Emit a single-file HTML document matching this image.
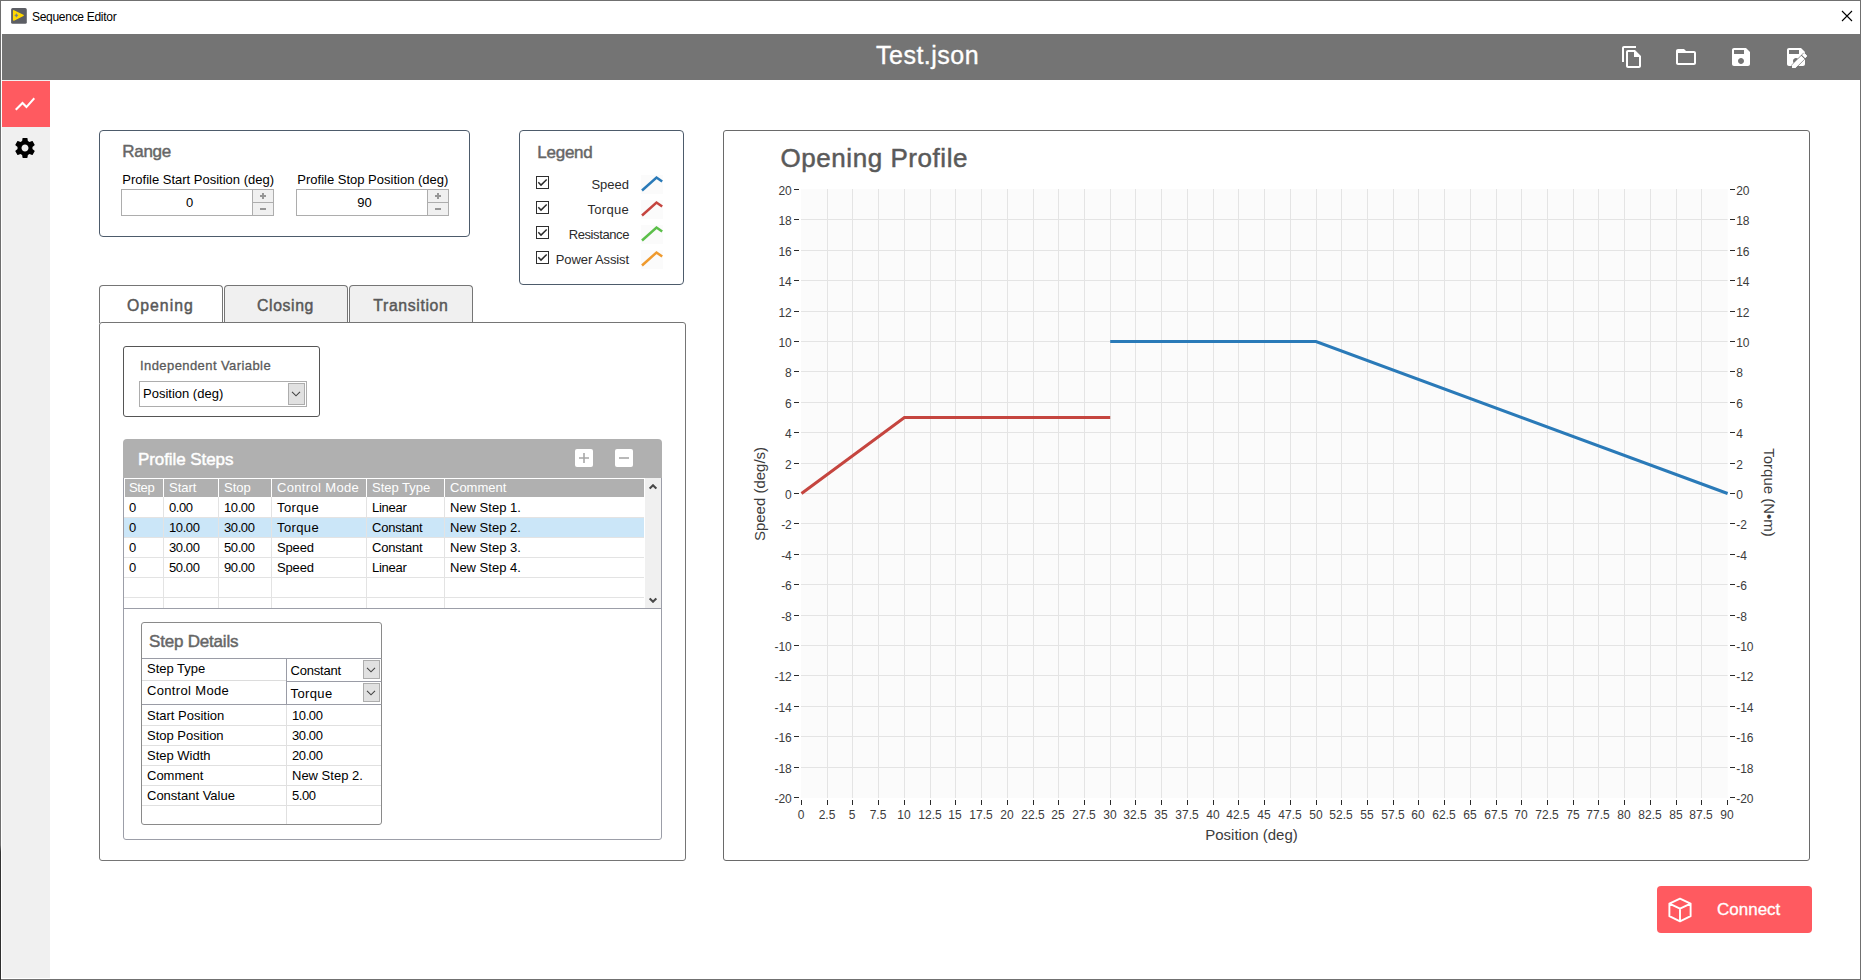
<!DOCTYPE html>
<html>
<head>
<meta charset="utf-8">
<title>Sequence Editor</title>
<style>
*{box-sizing:border-box;margin:0;padding:0}
html,body{width:1861px;height:980px;overflow:hidden;background:#fff}
body{font-family:"Liberation Sans",sans-serif;font-size:13px;color:#000;position:relative}
.abs{position:absolute}
.t{position:absolute;white-space:nowrap;line-height:1}
#win{position:absolute;left:0;top:0;width:1861px;height:980px;border:1px solid #707070;background:#fff}
#lb{position:absolute;left:0;top:0;width:1px;height:980px;background:linear-gradient(#6e6e6e 0,#6e6e6e 845px,#333 852px,#2e2e2e 980px)}
#bar{position:absolute;left:2px;top:34px;width:1858px;height:46px;background:#747474}
#side{position:absolute;left:2px;top:80px;width:48px;height:898px;background:#f0f0f0}
#sideact{position:absolute;left:2px;top:81px;width:48px;height:46px;background:#ff5a60}
.panel{position:absolute;border:1px solid #4d5b6b;border-radius:4px;background:#fff}
.h{color:#666;-webkit-text-stroke:0.45px #666}

.num{width:153px;height:27px;border:1px solid #adadad;background:#fff}
.num .v{position:absolute;left:2px;width:131px;text-align:center;font-size:13px;line-height:1;top:0}
.num .sp{position:absolute;left:130px;width:21px;background:#f0f0f0;border-left:1px solid #adadad}
.num .sp.u{top:0;height:13px;border-bottom:1px solid #adadad}
.num .sp.d{top:13px;height:12px}
.num .sp i{position:absolute;left:7px;width:6px;height:2px;background:#969696;top:5px}
.num .sp.d i{top:5px}
.num .sp b{position:absolute;left:9px;width:2px;height:6px;background:#969696;top:3px}

.cb{position:absolute;width:13px;height:13px;border:1px solid #2e2e2e;background:#fff}
.cb svg{position:absolute;left:0;top:0}
.lg{color:#2b2b2b}
.tab{position:absolute;top:285px;width:124px;height:38px;border:1px solid #757575;border-bottom:none;border-radius:4px 4px 0 0;background:#f0f0f0}
.tab.on{background:#fff}
.tt{color:#585858;-webkit-text-stroke:0.45px #585858;font-size:15.8px}
.dd{position:absolute;border:1px solid #adadad;background:#fff}
.ddb{position:absolute;background:#e1e1e1;border:1px solid #adadad}
.ddb svg{position:absolute;left:50%;top:50%;margin:-3px 0 0 -5.5px}
</style>
</head>
<body>
<div id="win"></div><div id="lb"></div>
<!-- SECTION:TITLEBAR -->
<svg class="abs" style="left:11px;top:8px" width="16" height="16" viewBox="0 0 16 16"><rect x="0.1" y="0.1" width="15.7" height="15.7" rx="1.6" fill="#5c5e64"/><path d="M2.7 2.8L12.1 7.4L2.7 12.0Z" fill="#ffd800" stroke="#ffd800" stroke-width="1.5" stroke-linejoin="round"/><path d="M5.4 5.6Q5.6 7.2 7.1 7.4Q5.6 7.6 5.4 9.2Q5.2 7.6 3.7 7.4Q5.2 7.2 5.4 5.6Z" fill="#6b7b8e" stroke="#6b7b8e" stroke-width="0.5"/></svg>
<div class="t" id="wtitle" style="left:32px;top:11px;font-size:12px;letter-spacing:-0.29px">Sequence Editor</div>
<svg class="abs" style="left:1841px;top:10px" width="12" height="12" viewBox="0 0 12 12"><path d="M1 1L11 11M11 1L1 11" stroke="#000" stroke-width="1.1" fill="none"/></svg>
<!-- SECTION:BAR -->
<div id="bar"></div>
<div class="t" id="ftitle" style="left:876px;top:43px;font-size:25px;color:#fff;-webkit-text-stroke:0.35px #fff;letter-spacing:0.5px">Test.json</div>
<svg class="abs" style="left:1620px;top:45px" width="24" height="24" viewBox="0 0 24 24" fill="#fff"><path d="M16 1H4c-1.1 0-2 .9-2 2v14h2V3h12V1zm-1 4H8c-1.1 0-1.99.9-1.99 2L6 21c0 1.1.89 2 1.99 2H19c1.1 0 2-.9 2-2V11l-6-6zM8 21V7h6v5h5v9H8z"/></svg>
<svg class="abs" style="left:1674px;top:45px" width="24" height="24" viewBox="0 0 24 24" fill="#fff"><path d="M20 6h-8l-2-2H4c-1.1 0-1.99.9-1.99 2L2 18c0 1.1.9 2 2 2h16c1.1 0 2-.9 2-2V8c0-1.1-.9-2-2-2zm0 12H4V8h16v10z"/></svg>
<svg class="abs" style="left:1729px;top:45px" width="24" height="24" viewBox="0 0 24 24" fill="#fff"><path d="M17 3H5c-1.11 0-2 .9-2 2v14c0 1.1.89 2 2 2h14c1.1 0 2-.9 2-2V7l-4-4zm-5 16c-1.66 0-3-1.34-3-3s1.34-3 3-3 3 1.34 3 3-1.34 3-3 3zm3-10H5V5h10v4z"/></svg>
<svg class="abs" style="left:1784px;top:45px" width="26" height="26" viewBox="0 0 26 26" fill="#fff"><path d="M17 3H5c-1.11 0-2 .9-2 2v14c0 1.1.89 2 2 2h14c1.1 0 2-.9 2-2V7l-4-4zm-5 16c-1.66 0-3-1.34-3-3s1.34-3 3-3 3 1.34 3 3-1.34 3-3 3zm3-10H5V5h10v4z"/><g transform="translate(5.7 5.8) scale(0.82)"><path d="M3 17.25V21h3.75L17.81 9.94l-3.75-3.75L3 17.25zM20.71 7.04c.39-.39.39-1.02 0-1.41l-2.34-2.34c-.39-.39-1.02-.39-1.41 0l-1.83 1.83 3.75 3.75 1.83-1.83z" stroke="#747474" stroke-width="1.5" paint-order="stroke" stroke-linejoin="miter"/><path d="M3 17.25V21h3.75L17.81 9.94l-3.75-3.75L3 17.25zM20.71 7.04c.39-.39.39-1.02 0-1.41l-2.34-2.34c-.39-.39-1.02-.39-1.41 0l-1.83 1.83 3.75 3.75 1.83-1.83z"/></g></svg>
<!-- SECTION:SIDE -->
<div id="side"></div>
<div id="sideact"></div>
<svg class="abs" style="left:13px;top:92px" width="24" height="24" viewBox="0 0 24 24" fill="#fff"><path d="M3.5 18.49l6-6.01 4 4L22 6.92l-1.41-1.41-7.09 7.97-4-4L2 16.99z"/></svg>
<svg class="abs" style="left:13px;top:136px" width="24" height="24" viewBox="0 0 24 24" fill="#000"><path d="M19.43 12.98c.04-.32.07-.64.07-.98s-.03-.66-.07-.98l2.11-1.65c.19-.15.24-.42.12-.64l-2-3.46c-.12-.22-.39-.3-.61-.22l-2.49 1c-.52-.4-1.08-.73-1.69-.98l-.38-2.65C14.46 2.18 14.25 2 14 2h-4c-.25 0-.46.18-.49.42l-.38 2.65c-.61.25-1.17.59-1.69.98l-2.49-1c-.23-.09-.49 0-.61.22l-2 3.46c-.13.22-.07.49.12.64l2.11 1.65c-.04.32-.07.65-.07.98s.03.66.07.98l-2.11 1.65c-.19.15-.24.42-.12.64l2 3.46c.12.22.39.3.61.22l2.49-1c.52.4 1.08.73 1.69.98l.38 2.65c.03.24.24.42.49.42h4c.25 0 .46-.18.49-.42l.38-2.65c.61-.25 1.17-.59 1.69-.98l2.49 1c.23.09.49 0 .61-.22l2-3.46c.12-.22.07-.49-.12-.64l-2.11-1.65zM12 15.5c-1.93 0-3.5-1.57-3.5-3.5s1.57-3.5 3.5-3.5 3.5 1.57 3.5 3.5-1.57 3.5-3.5 3.5z"/></svg>
<!-- SECTION:RANGE -->
<div class="panel" style="left:99px;top:130px;width:371px;height:107px"></div>
<div class="t h" id="t_range" style="left:122.3px;top:143px;font-size:17px;letter-spacing:-0.3px">Range</div>
<div class="t" id="t_pstart" style="left:122.3px;top:173px;font-size:13px">Profile Start Position (deg)</div>
<div class="t" id="t_pstop" style="left:297.3px;top:173px;font-size:13px">Profile Stop Position (deg)</div>
<div class="abs num" style="left:121px;top:189px"><div class="v" style="top:6px">0</div><div class="sp u"><i></i><b></b></div><div class="sp d"><i></i></div></div>
<div class="abs num" style="left:296px;top:189px"><div class="v" style="top:6px">90</div><div class="sp u"><i></i><b></b></div><div class="sp d"><i></i></div></div>
<!-- SECTION:LEGEND -->
<div class="panel" style="left:519px;top:130px;width:165px;height:155px"></div>
<div class="t h" id="t_legend" style="left:537.3px;top:144px;font-size:17px;letter-spacing:-0.25px">Legend</div>
<div class="cb" style="left:536px;top:176px"><svg width="11" height="11" viewBox="0 0 11 11"><path d="M1.3 5.3L4.0 8.1L9.7 2.4" stroke="#2a2a2a" stroke-width="1.45" fill="none"/></svg></div>
<div class="t lg" id="t_lg0" style="right:1232px;top:178px;font-size:13px;letter-spacing:0px">Speed</div>
<svg class="abs" style="left:641px;top:175px" width="22" height="19" viewBox="0 0 22 19"><rect width="22" height="19" fill="#fbfbfb"/><path d="M1 15.5L15.5 2.5L21.2 6.5" stroke="#2a7ab8" stroke-width="2.5" fill="none"/></svg>
<div class="cb" style="left:536px;top:201px"><svg width="11" height="11" viewBox="0 0 11 11"><path d="M1.3 5.3L4.0 8.1L9.7 2.4" stroke="#2a2a2a" stroke-width="1.45" fill="none"/></svg></div>
<div class="t lg" id="t_lg1" style="right:1232px;top:203px;font-size:13px;letter-spacing:0.3px">Torque</div>
<svg class="abs" style="left:641px;top:200px" width="22" height="19" viewBox="0 0 22 19"><rect width="22" height="19" fill="#fbfbfb"/><path d="M1 15.5L15.5 2.5L21.2 6.5" stroke="#c5453f" stroke-width="2.5" fill="none"/></svg>
<div class="cb" style="left:536px;top:226px"><svg width="11" height="11" viewBox="0 0 11 11"><path d="M1.3 5.3L4.0 8.1L9.7 2.4" stroke="#2a2a2a" stroke-width="1.45" fill="none"/></svg></div>
<div class="t lg" id="t_lg2" style="right:1232px;top:228px;font-size:13px;letter-spacing:-0.4px">Resistance</div>
<svg class="abs" style="left:641px;top:225px" width="22" height="19" viewBox="0 0 22 19"><rect width="22" height="19" fill="#fbfbfb"/><path d="M1 15.5L15.5 2.5L21.2 6.5" stroke="#5cbf4a" stroke-width="2.5" fill="none"/></svg>
<div class="cb" style="left:536px;top:251px"><svg width="11" height="11" viewBox="0 0 11 11"><path d="M1.3 5.3L4.0 8.1L9.7 2.4" stroke="#2a2a2a" stroke-width="1.45" fill="none"/></svg></div>
<div class="t lg" id="t_lg3" style="right:1232px;top:253px;font-size:13px;letter-spacing:-0.1px">Power Assist</div>
<svg class="abs" style="left:641px;top:250px" width="22" height="19" viewBox="0 0 22 19"><rect width="22" height="19" fill="#fbfbfb"/><path d="M1 15.5L15.5 2.5L21.2 6.5" stroke="#ef9a2e" stroke-width="2.5" fill="none"/></svg>
<!-- SECTION:TABS -->
<div class="tab on" style="left:99px"></div>
<div class="tab" style="left:224px"></div>
<div class="tab" style="left:349px"></div>
<div class="abs" style="left:99px;top:322px;width:587px;height:539px;border:1px solid #757575;border-radius:3px;background:#fff"></div>
<div class="t tt" id="t_tab0" style="left:127px;top:298px;letter-spacing:1.0px">Opening</div>
<div class="t tt" id="t_tab1" style="left:257px;top:298px;letter-spacing:0.62px">Closing</div>
<div class="t tt" id="t_tab2" style="left:373.3px;top:298px;letter-spacing:0.64px">Transition</div>
<div class="abs" style="left:123px;top:346px;width:197px;height:71px;border:1px solid #555;border-radius:3px;background:#fff"></div>
<div class="t" id="t_indep" style="left:140px;top:359px;font-size:13px;color:#5a5a5a;-webkit-text-stroke:0.3px #5a5a5a;letter-spacing:0.42px">Independent Variable</div>
<div class="dd" style="left:139px;top:381px;width:168px;height:26px"></div>
<div class="t" id="t_posdeg" style="left:143px;top:387px;font-size:13px">Position (deg)</div>
<div class="ddb" style="left:288px;top:383px;width:17px;height:22px"><svg width="10" height="6" viewBox="0 0 10 6"><path d="M1 0.8L5 4.8L9 0.8" stroke="#444" stroke-width="1.1" fill="none"/></svg></div>
<!-- SECTION:STEPS -->
<div class="abs" style="left:123px;top:476px;width:539px;height:364px;border:1px solid #9c9ea8;border-radius:0 0 3px 3px;background:#fff"></div>
<div class="abs" style="left:123px;top:439px;width:539px;height:39px;background:#b0b0b0;border-radius:4px 4px 0 0"></div>
<div class="t" id="t_psteps" style="left:138px;top:451px;font-size:17px;color:#fff;-webkit-text-stroke:0.45px #fff;letter-spacing:-0.08px">Profile Steps</div>
<div class="abs" style="left:575px;top:449px;width:18px;height:18px;background:#fff;border-radius:2px"><svg width="18" height="18" viewBox="0 0 18 18"><path d="M4 9H14M9 4V14" stroke="#a8a8a8" stroke-width="1.6" fill="none"/></svg></div>
<div class="abs" style="left:615px;top:449px;width:18px;height:18px;background:#fff;border-radius:2px"><svg width="18" height="18" viewBox="0 0 18 18"><path d="M4 9H14" stroke="#a8a8a8" stroke-width="1.6" fill="none"/></svg></div>
<div class="abs" style="left:124px;top:478px;width:520px;height:130px;background:#fff;overflow:hidden">
<div class="abs" style="left:1px;top:1px;width:38px;height:18px;background:#b0b0b0"></div><div class="abs" style="left:40px;top:1px;width:54px;height:18px;background:#b0b0b0"></div><div class="abs" style="left:95px;top:1px;width:52px;height:18px;background:#b0b0b0"></div><div class="abs" style="left:148px;top:1px;width:94px;height:18px;background:#b0b0b0"></div><div class="abs" style="left:243px;top:1px;width:77px;height:18px;background:#b0b0b0"></div><div class="abs" style="left:321px;top:1px;width:199px;height:18px;background:#b0b0b0"></div>
<div class="abs" style="left:0;top:39px;width:520px;height:20px;background:#cbe6f8"></div>
<div class="abs" style="left:0;top:39px;width:520px;height:1px;background:#e3e3e3"></div><div class="abs" style="left:0;top:59px;width:520px;height:1px;background:#e3e3e3"></div><div class="abs" style="left:0;top:79px;width:520px;height:1px;background:#e3e3e3"></div><div class="abs" style="left:0;top:99px;width:520px;height:1px;background:#e3e3e3"></div><div class="abs" style="left:0;top:119px;width:520px;height:1px;background:#e3e3e3"></div><div class="abs" style="left:0;top:139px;width:520px;height:1px;background:#e3e3e3"></div>
<div class="abs" style="left:39px;top:19px;width:1px;height:112px;background:#e3e3e3"></div><div class="abs" style="left:94px;top:19px;width:1px;height:112px;background:#e3e3e3"></div><div class="abs" style="left:147px;top:19px;width:1px;height:112px;background:#e3e3e3"></div><div class="abs" style="left:242px;top:19px;width:1px;height:112px;background:#e3e3e3"></div><div class="abs" style="left:320px;top:19px;width:1px;height:112px;background:#e3e3e3"></div>
</div>
<div class="t" id="t_th0" style="left:129px;top:481px;font-size:13px;color:#fff;letter-spacing:-0.33px">Step</div>
<div class="t" id="t_th1" style="left:169px;top:481px;font-size:13px;color:#fff">Start</div>
<div class="t" id="t_th2" style="left:224px;top:481px;font-size:13px;color:#fff">Stop</div>
<div class="t" id="t_th3" style="left:277px;top:481px;font-size:13px;color:#fff;letter-spacing:0.34px">Control Mode</div>
<div class="t" id="t_th4" style="left:372px;top:481px;font-size:13px;color:#fff">Step Type</div>
<div class="t" id="t_th5" style="left:450px;top:481px;font-size:13px;color:#fff">Comment</div>
<div class="t" id="t_r0c0" style="left:129px;top:501px;font-size:13px">0</div>
<div class="t" id="t_r0c1" style="left:169px;top:501px;font-size:13px;letter-spacing:-0.4px">0.00</div>
<div class="t" id="t_r0c2" style="left:224px;top:501px;font-size:13px;letter-spacing:-0.4px">10.00</div>
<div class="t" id="t_r0c3" style="left:277px;top:501px;font-size:13px;letter-spacing:0.38px">Torque</div>
<div class="t" id="t_r0c4" style="left:372px;top:501px;font-size:13px;letter-spacing:-0.27px">Linear</div>
<div class="t" id="t_r0c5" style="left:450px;top:501px;font-size:13px">New Step 1.</div>
<div class="t" id="t_r1c0" style="left:129px;top:521px;font-size:13px">0</div>
<div class="t" id="t_r1c1" style="left:169px;top:521px;font-size:13px;letter-spacing:-0.4px">10.00</div>
<div class="t" id="t_r1c2" style="left:224px;top:521px;font-size:13px;letter-spacing:-0.4px">30.00</div>
<div class="t" id="t_r1c3" style="left:277px;top:521px;font-size:13px;letter-spacing:0.38px">Torque</div>
<div class="t" id="t_r1c4" style="left:372px;top:521px;font-size:13px;letter-spacing:-0.2px">Constant</div>
<div class="t" id="t_r1c5" style="left:450px;top:521px;font-size:13px">New Step 2.</div>
<div class="t" id="t_r2c0" style="left:129px;top:541px;font-size:13px">0</div>
<div class="t" id="t_r2c1" style="left:169px;top:541px;font-size:13px;letter-spacing:-0.4px">30.00</div>
<div class="t" id="t_r2c2" style="left:224px;top:541px;font-size:13px;letter-spacing:-0.4px">50.00</div>
<div class="t" id="t_r2c3" style="left:277px;top:541px;font-size:13px;letter-spacing:-0.15px">Speed</div>
<div class="t" id="t_r2c4" style="left:372px;top:541px;font-size:13px;letter-spacing:-0.2px">Constant</div>
<div class="t" id="t_r2c5" style="left:450px;top:541px;font-size:13px">New Step 3.</div>
<div class="t" id="t_r3c0" style="left:129px;top:561px;font-size:13px">0</div>
<div class="t" id="t_r3c1" style="left:169px;top:561px;font-size:13px;letter-spacing:-0.4px">50.00</div>
<div class="t" id="t_r3c2" style="left:224px;top:561px;font-size:13px;letter-spacing:-0.4px">90.00</div>
<div class="t" id="t_r3c3" style="left:277px;top:561px;font-size:13px;letter-spacing:-0.15px">Speed</div>
<div class="t" id="t_r3c4" style="left:372px;top:561px;font-size:13px;letter-spacing:-0.27px">Linear</div>
<div class="t" id="t_r3c5" style="left:450px;top:561px;font-size:13px">New Step 4.</div>
<div class="abs" style="left:645px;top:478px;width:16px;height:130px;background:#f0f0f0"></div>
<svg class="abs" style="left:649px;top:484px" width="8" height="6" viewBox="0 0 8 6"><path d="M0.7 4.6L4 1.3L7.3 4.6" stroke="#484848" stroke-width="2.1" fill="none"/></svg>
<svg class="abs" style="left:649px;top:596.5px" width="8" height="6" viewBox="0 0 8 6"><path d="M0.7 1.4L4 4.7L7.3 1.4" stroke="#484848" stroke-width="2.1" fill="none"/></svg>
<div class="abs" style="left:124px;top:608px;width:537px;height:1px;background:#9c9ea8"></div>
<!-- SECTION:DETAILS -->
<div class="abs" style="left:141px;top:622px;width:241px;height:203px;border:1px solid #8a8a8a;border-radius:3px;background:#fff"></div>
<div class="t h" id="t_sdet" style="left:149px;top:633px;font-size:17px;letter-spacing:-0.2px">Step Details</div>
<div class="abs" style="left:142px;top:658px;width:239px;height:1px;background:#9a9ca6"></div>
<div class="abs" style="left:142px;top:680px;width:145px;height:1px;background:#dcdcdc"></div>
<div class="abs" style="left:142px;top:704px;width:239px;height:1px;background:#9a9ca6"></div>
<div class="abs" style="left:142px;top:725px;width:239px;height:1px;background:#e0e0e0"></div><div class="abs" style="left:142px;top:745px;width:239px;height:1px;background:#e0e0e0"></div><div class="abs" style="left:142px;top:765px;width:239px;height:1px;background:#e0e0e0"></div><div class="abs" style="left:142px;top:785px;width:239px;height:1px;background:#e0e0e0"></div><div class="abs" style="left:142px;top:805px;width:239px;height:1px;background:#e0e0e0"></div>
<div class="abs" style="left:286px;top:705px;width:1px;height:119px;background:#e0e0e0"></div>
<div class="abs" style="left:286px;top:658px;width:96px;height:24px;border:1px solid #9a9ca6;border-right-color:#8a8a8a;background:#fff"></div>
<div class="abs" style="left:286px;top:681px;width:96px;height:24px;border:1px solid #9a9ca6;border-right-color:#8a8a8a;background:#fff"></div>
<div class="ddb" style="left:363px;top:660px;width:17px;height:19px"><svg width="10" height="6" viewBox="0 0 10 6"><path d="M1 0.8L5 4.8L9 0.8" stroke="#444" stroke-width="1.1" fill="none"/></svg></div>
<div class="ddb" style="left:363px;top:683px;width:17px;height:19px"><svg width="10" height="6" viewBox="0 0 10 6"><path d="M1 0.8L5 4.8L9 0.8" stroke="#444" stroke-width="1.1" fill="none"/></svg></div>
<div class="t" id="t_dconst" style="left:290.5px;top:664px;font-size:13px;letter-spacing:-0.2px">Constant</div>
<div class="t" id="t_dtorq" style="left:290.5px;top:687px;font-size:13px;letter-spacing:0.38px">Torque</div>
<div class="t" id="t_dl0" style="left:147px;top:662px;font-size:13px">Step Type</div>
<div class="t" id="t_dl1" style="left:147px;top:684px;font-size:13px;letter-spacing:0.34px">Control Mode</div>
<div class="t" id="t_dl2" style="left:147px;top:709px;font-size:13px">Start Position</div>
<div class="t" id="t_dv0" style="left:292px;top:709px;font-size:13px;letter-spacing:-0.4px">10.00</div>
<div class="t" id="t_dl3" style="left:147px;top:729px;font-size:13px">Stop Position</div>
<div class="t" id="t_dv1" style="left:292px;top:729px;font-size:13px;letter-spacing:-0.4px">30.00</div>
<div class="t" id="t_dl4" style="left:147px;top:749px;font-size:13px">Step Width</div>
<div class="t" id="t_dv2" style="left:292px;top:749px;font-size:13px;letter-spacing:-0.4px">20.00</div>
<div class="t" id="t_dl5" style="left:147px;top:769px;font-size:13px">Comment</div>
<div class="t" id="t_dv3" style="left:292px;top:769px;font-size:13px">New Step 2.</div>
<div class="t" id="t_dl6" style="left:147px;top:789px;font-size:13px">Constant Value</div>
<div class="t" id="t_dv4" style="left:292px;top:789px;font-size:13px;letter-spacing:-0.4px">5.00</div>
<!-- SECTION:CHART -->
<div class="abs" style="left:723px;top:130px;width:1087px;height:731px;border:1px solid #6a6a6a;border-radius:3px;background:#fff"></div>
<div class="t" id="t_ctitle" style="left:780.5px;top:145px;font-size:26px;color:#5a5a5a;-webkit-text-stroke:0.5px #5a5a5a;letter-spacing:0.55px">Opening Profile</div>
<svg class="abs" style="left:723px;top:130px" width="1087" height="731" viewBox="723 130 1087 731" font-family="Liberation Sans, sans-serif">
<rect x="801" y="189" width="926.6" height="609" fill="#fbfbfb"/>
<path d="M827.5 189V798M852.5 189V798M878.5 189V798M904.5 189V798M930.5 189V798M955.5 189V798M981.5 189V798M1007.5 189V798M1033.5 189V798M1058.5 189V798M1084.5 189V798M1110.5 189V798M1135.5 189V798M1161.5 189V798M1187.5 189V798M1213.5 189V798M1238.5 189V798M1264.5 189V798M1290.5 189V798M1316.5 189V798M1341.5 189V798M1367.5 189V798M1393.5 189V798M1418.5 189V798M1444.5 189V798M1470.5 189V798M1496.5 189V798M1521.5 189V798M1547.5 189V798M1573.5 189V798M1598.5 189V798M1624.5 189V798M1650.5 189V798M1676.5 189V798M1701.5 189V798M801 767.5H1727.6M801 736.5H1727.6M801 706.5H1727.6M801 675.5H1727.6M801 645.5H1727.6M801 615.5H1727.6M801 584.5H1727.6M801 554.5H1727.6M801 523.5H1727.6M801 493.5H1727.6M801 463.5H1727.6M801 432.5H1727.6M801 402.5H1727.6M801 371.5H1727.6M801 341.5H1727.6M801 311.5H1727.6M801 280.5H1727.6M801 250.5H1727.6M801 219.5H1727.6" stroke="#e4e4e4" stroke-width="1" fill="none"/>
<path d="M794 797.5H799M1730 797.5H1735M794 767.5H799M1730 767.5H1735M794 736.5H799M1730 736.5H1735M794 706.5H799M1730 706.5H1735M794 675.5H799M1730 675.5H1735M794 645.5H799M1730 645.5H1735M794 615.5H799M1730 615.5H1735M794 584.5H799M1730 584.5H1735M794 554.5H799M1730 554.5H1735M794 523.5H799M1730 523.5H1735M794 493.5H799M1730 493.5H1735M794 463.5H799M1730 463.5H1735M794 432.5H799M1730 432.5H1735M794 402.5H799M1730 402.5H1735M794 371.5H799M1730 371.5H1735M794 341.5H799M1730 341.5H1735M794 311.5H799M1730 311.5H1735M794 280.5H799M1730 280.5H1735M794 250.5H799M1730 250.5H1735M794 219.5H799M1730 219.5H1735M794 189.5H799M1730 189.5H1735M801.5 800V805M827.5 800V805M852.5 800V805M878.5 800V805M904.5 800V805M930.5 800V805M955.5 800V805M981.5 800V805M1007.5 800V805M1033.5 800V805M1058.5 800V805M1084.5 800V805M1110.5 800V805M1135.5 800V805M1161.5 800V805M1187.5 800V805M1213.5 800V805M1238.5 800V805M1264.5 800V805M1290.5 800V805M1316.5 800V805M1341.5 800V805M1367.5 800V805M1393.5 800V805M1418.5 800V805M1444.5 800V805M1470.5 800V805M1496.5 800V805M1521.5 800V805M1547.5 800V805M1573.5 800V805M1598.5 800V805M1624.5 800V805M1650.5 800V805M1676.5 800V805M1701.5 800V805M1727.5 800V805" stroke="#2a2a2a" stroke-width="1" fill="none"/>
<g font-size="12" fill="#3c3c3c">
<text x="791.8" y="803.0" text-anchor="end">-20</text><text x="1736.2" y="803.0">-20</text><text x="791.8" y="773.0" text-anchor="end">-18</text><text x="1736.2" y="773.0">-18</text><text x="791.8" y="742.0" text-anchor="end">-16</text><text x="1736.2" y="742.0">-16</text><text x="791.8" y="712.0" text-anchor="end">-14</text><text x="1736.2" y="712.0">-14</text><text x="791.8" y="681.0" text-anchor="end">-12</text><text x="1736.2" y="681.0">-12</text><text x="791.8" y="651.0" text-anchor="end">-10</text><text x="1736.2" y="651.0">-10</text><text x="791.8" y="621.0" text-anchor="end">-8</text><text x="1736.2" y="621.0">-8</text><text x="791.8" y="590.0" text-anchor="end">-6</text><text x="1736.2" y="590.0">-6</text><text x="791.8" y="560.0" text-anchor="end">-4</text><text x="1736.2" y="560.0">-4</text><text x="791.8" y="529.0" text-anchor="end">-2</text><text x="1736.2" y="529.0">-2</text><text x="791.8" y="499.0" text-anchor="end">0</text><text x="1736.2" y="499.0">0</text><text x="791.8" y="469.0" text-anchor="end">2</text><text x="1736.2" y="469.0">2</text><text x="791.8" y="438.0" text-anchor="end">4</text><text x="1736.2" y="438.0">4</text><text x="791.8" y="408.0" text-anchor="end">6</text><text x="1736.2" y="408.0">6</text><text x="791.8" y="377.0" text-anchor="end">8</text><text x="1736.2" y="377.0">8</text><text x="791.8" y="347.0" text-anchor="end">10</text><text x="1736.2" y="347.0">10</text><text x="791.8" y="317.0" text-anchor="end">12</text><text x="1736.2" y="317.0">12</text><text x="791.8" y="286.0" text-anchor="end">14</text><text x="1736.2" y="286.0">14</text><text x="791.8" y="256.0" text-anchor="end">16</text><text x="1736.2" y="256.0">16</text><text x="791.8" y="225.0" text-anchor="end">18</text><text x="1736.2" y="225.0">18</text><text x="791.8" y="195.0" text-anchor="end">20</text><text x="1736.2" y="195.0">20</text>
<text x="801.0" y="818.6" text-anchor="middle">0</text><text x="827.0" y="818.6" text-anchor="middle">2.5</text><text x="852.0" y="818.6" text-anchor="middle">5</text><text x="878.0" y="818.6" text-anchor="middle">7.5</text><text x="904.0" y="818.6" text-anchor="middle">10</text><text x="930.0" y="818.6" text-anchor="middle">12.5</text><text x="955.0" y="818.6" text-anchor="middle">15</text><text x="981.0" y="818.6" text-anchor="middle">17.5</text><text x="1007.0" y="818.6" text-anchor="middle">20</text><text x="1033.0" y="818.6" text-anchor="middle">22.5</text><text x="1058.0" y="818.6" text-anchor="middle">25</text><text x="1084.0" y="818.6" text-anchor="middle">27.5</text><text x="1110.0" y="818.6" text-anchor="middle">30</text><text x="1135.0" y="818.6" text-anchor="middle">32.5</text><text x="1161.0" y="818.6" text-anchor="middle">35</text><text x="1187.0" y="818.6" text-anchor="middle">37.5</text><text x="1213.0" y="818.6" text-anchor="middle">40</text><text x="1238.0" y="818.6" text-anchor="middle">42.5</text><text x="1264.0" y="818.6" text-anchor="middle">45</text><text x="1290.0" y="818.6" text-anchor="middle">47.5</text><text x="1316.0" y="818.6" text-anchor="middle">50</text><text x="1341.0" y="818.6" text-anchor="middle">52.5</text><text x="1367.0" y="818.6" text-anchor="middle">55</text><text x="1393.0" y="818.6" text-anchor="middle">57.5</text><text x="1418.0" y="818.6" text-anchor="middle">60</text><text x="1444.0" y="818.6" text-anchor="middle">62.5</text><text x="1470.0" y="818.6" text-anchor="middle">65</text><text x="1496.0" y="818.6" text-anchor="middle">67.5</text><text x="1521.0" y="818.6" text-anchor="middle">70</text><text x="1547.0" y="818.6" text-anchor="middle">72.5</text><text x="1573.0" y="818.6" text-anchor="middle">75</text><text x="1598.0" y="818.6" text-anchor="middle">77.5</text><text x="1624.0" y="818.6" text-anchor="middle">80</text><text x="1650.0" y="818.6" text-anchor="middle">82.5</text><text x="1676.0" y="818.6" text-anchor="middle">85</text><text x="1701.0" y="818.6" text-anchor="middle">87.5</text><text x="1727.0" y="818.6" text-anchor="middle">90</text>
</g>
<text x="1251.5" y="839.6" text-anchor="middle" font-size="15" fill="#3c3c3c" id="t_xlab">Position (deg)</text>
<text transform="translate(765 494) rotate(-90)" text-anchor="middle" font-size="15" fill="#3c3c3c" id="t_yl">Speed (deg/s)</text>
<text transform="translate(1764 492.5) rotate(90)" text-anchor="middle" font-size="15" fill="#3c3c3c" id="t_yr">Torque (N•m)</text>
<path d="M801.5 493.5L904.4 417.5L1110.2 417.5" stroke="#c5453f" stroke-width="3" fill="none"/>
<path d="M1110.2 341.5L1316.0 341.5L1727.6 493.5" stroke="#2a7ab8" stroke-width="3" fill="none"/>
</svg>
<!-- SECTION:CONNECT -->
<div class="abs" style="left:1657px;top:886px;width:155px;height:47px;background:#ff5a60;border-radius:4px"></div>
<svg class="abs" style="left:1667px;top:896px" width="26" height="28" viewBox="0 0 26 28"><path d="M13 2.6L2.4 7.6V20.2L13 25.4L23.6 20.2V7.6ZM2.4 7.6L13 12.6L23.6 7.6M13 12.6V25.4" stroke="#fff" stroke-width="1.9" fill="none" stroke-linejoin="round"/></svg>
<div class="t" id="t_conn" style="left:1717px;top:901px;font-size:17px;color:#fff;-webkit-text-stroke:0.3px #fff">Connect</div>
</body>
</html>
